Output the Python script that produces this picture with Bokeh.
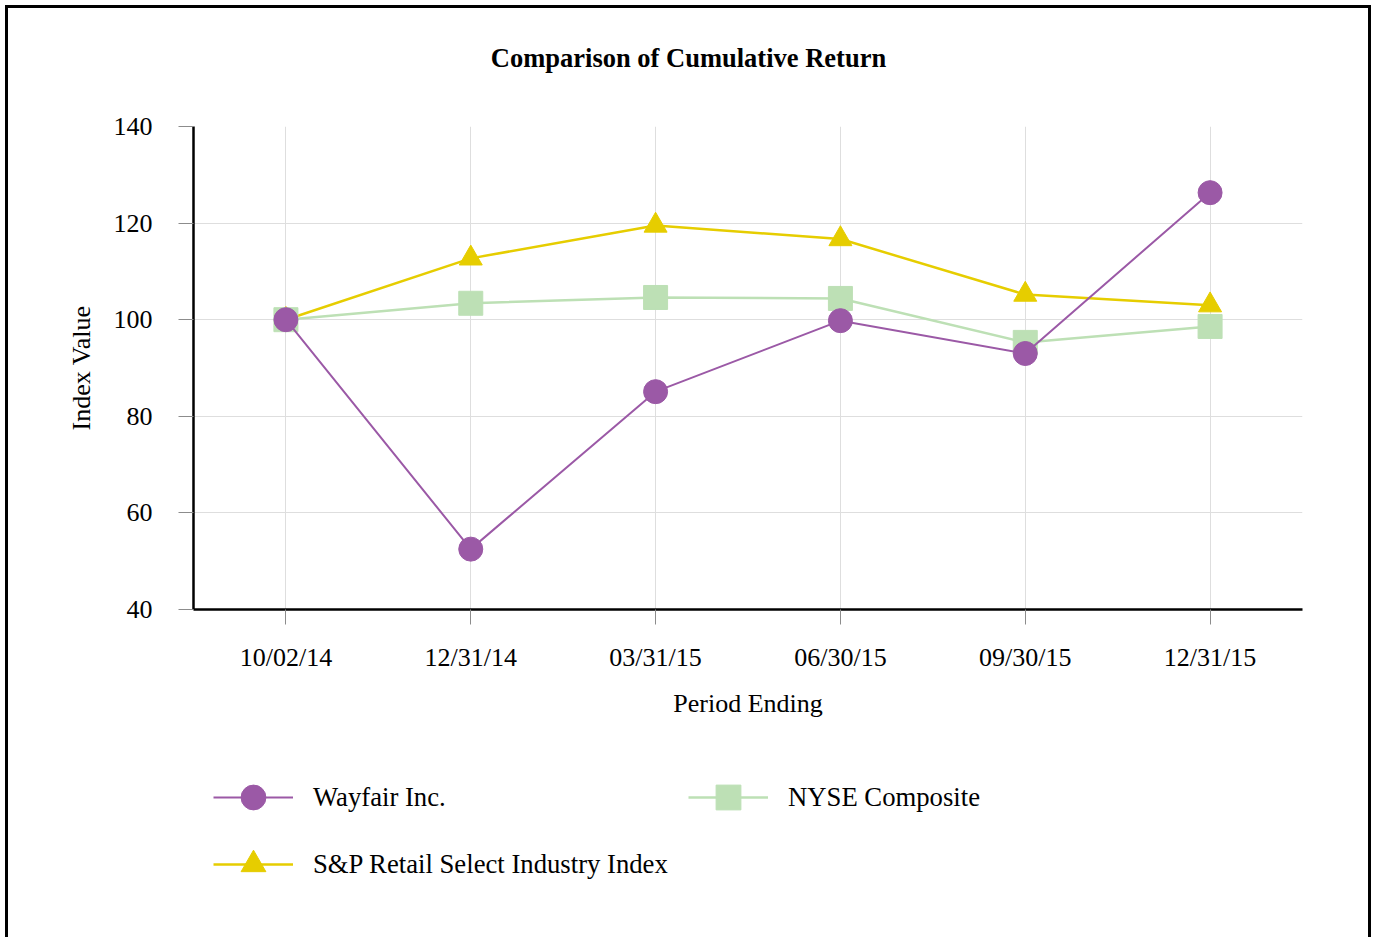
from bokeh.plotting import figure
from bokeh.layouts import column
from bokeh.models import Legend, LegendItem, Label, FactorRange, FixedTicker
from bokeh.embed import file_html
from bokeh.resources import INLINE

periods = ["10/02/14", "12/31/14", "03/31/15", "06/30/15", "09/30/15", "12/31/15"]
wayfair = [100.0, 52.5, 85.1, 99.8, 93.0, 126.3]
nyse = [100.0, 103.4, 104.6, 104.4, 95.3, 98.6]
sp_retail = [100.0, 112.7, 119.5, 116.7, 105.2, 103.0]
series_names = ["Wayfair Inc.", "NYSE Composite", "S&P Retail Select Industry Index"]
y_ticks = [40, 60, 80, 100, 120, 140]
title_text = "Comparison of Cumulative Return"
x_label = "Period Ending"
y_label = "Index Value"

FONT = "Liberation Serif"
W = 1374
H0, H1, H2 = 90, 650, 197   # title strip, chart, legend strip

SIDES = ("inset 5px 0 0 0 white, inset -3px 0 0 0 white, "
         "inset 8px 0 0 0 black, inset -6px 0 0 0 black")
TOP = ("inset 5px 5px 0 0 white, inset -3px 0 0 0 white, "
       "inset 8px 8px 0 0 black, inset -6px 0 0 0 black")


def blank(height, shadow, x_range=(0, 1)):
    f = figure(width=W, height=height, output_backend="svg", toolbar_location=None,
               x_axis_location=None, y_axis_location=None,
               min_border_left=0, min_border_right=0, min_border_top=0,
               min_border_bottom=0, x_range=x_range, y_range=(0, 1))
    f.outline_line_color = None
    f.background_fill_color = None
    f.border_fill_color = None
    f.xgrid.visible = False
    f.ygrid.visible = False
    f.styles = {"background-color": "white", "box-shadow": shadow}
    return f


# ---- title strip
top = blank(H0, TOP)
top.add_layout(Label(x=688 - 193, y=H0 - 57, x_units="screen", y_units="screen",
                     text=title_text, text_font=FONT, text_font_size="26.5px",
                     text_font_style="bold", text_align="center",
                     text_baseline="middle", text_color="black"))

# ---- main chart
p = figure(x_range=FactorRange(factors=periods), y_range=(40, 140),
           width=W, height=H1, output_backend="svg", toolbar_location=None,
           min_border_left=193, min_border_right=72, min_border_top=126 - H0,
           min_border_bottom=H0 + H1 - 609)
p.outline_line_color = None
p.background_fill_color = "white"
p.border_fill_color = None
p.styles = {"background-color": "white", "box-shadow": SIDES}

for g in (p.xgrid, p.ygrid):
    g.grid_line_color = "#dedede"
    g.grid_line_width = 1

p.yaxis.ticker = FixedTicker(ticks=y_ticks)
for ax in (p.xaxis, p.yaxis):
    ax.axis_line_color = "black"
    ax.axis_line_width = 2.5
    ax.major_tick_line_color = "#8c8c8c"
    ax.major_tick_line_width = 1
    ax.major_tick_in = 0
    ax.major_tick_out = 15
    ax.minor_tick_line_color = None
    ax.major_label_text_font = FONT
    ax.major_label_text_font_size = "26px"
    ax.major_label_text_color = "black"
    ax.axis_label_text_font = FONT
    ax.axis_label_text_font_size = "26px"
    ax.axis_label_text_font_style = "normal"
    ax.axis_label_text_color = "black"
p.xaxis.axis_label = x_label
p.yaxis.axis_label = y_label
p.xaxis.major_label_standoff = 18
p.yaxis.major_label_standoff = 26
p.xaxis.axis_label_standoff = 14
p.yaxis.axis_label_standoff = 15

colors = ["#9b59a6", "#bde0b5", "#e6cd00"]
markers = ["circle", "square", "triangle"]
sizes = [24, 24, 23]
widths = [2, 2.5, 2.5]
data = [wayfair, nyse, sp_retail]

for i in [2, 1, 0]:
    p.line(periods, data[i], line_color=colors[i], line_width=widths[i])
    p.scatter(periods, data[i], marker=markers[i], size=sizes[i],
              fill_color=colors[i], line_color=colors[i])

# ---- legend strip (series drawn out of view; only their legend glyphs show)
lg = blank(H2, SIDES, x_range=FactorRange(factors=periods))
proxies = {}
for i in range(3):
    lr = lg.line(periods, data[i], line_color=colors[i], line_width=widths[i])
    sr = lg.scatter(periods, data[i], marker=markers[i], size=sizes[i],
                    fill_color=colors[i], line_color=colors[i])
    proxies[i] = [lr, sr]

order = [0, 2, 1]  # column-major fill -> row 1: Wayfair, NYSE; row 2: S&P
items = [LegendItem(label=series_names[i], renderers=proxies[i]) for i in order]
legend = Legend(items=items, ncols=2, location=(20, 42),
                glyph_width=80, glyph_height=62, label_standoff=20,
                label_width=370, spacing=5, padding=0, margin=0,
                border_line_color=None, background_fill_alpha=0,
                label_text_font=FONT, label_text_font_size="26.7px",
                label_text_color="black")
lg.add_layout(legend, "center")

layout = column(top, p, lg, spacing=0)
open("out.html", "w").write(file_html(layout, INLINE))
